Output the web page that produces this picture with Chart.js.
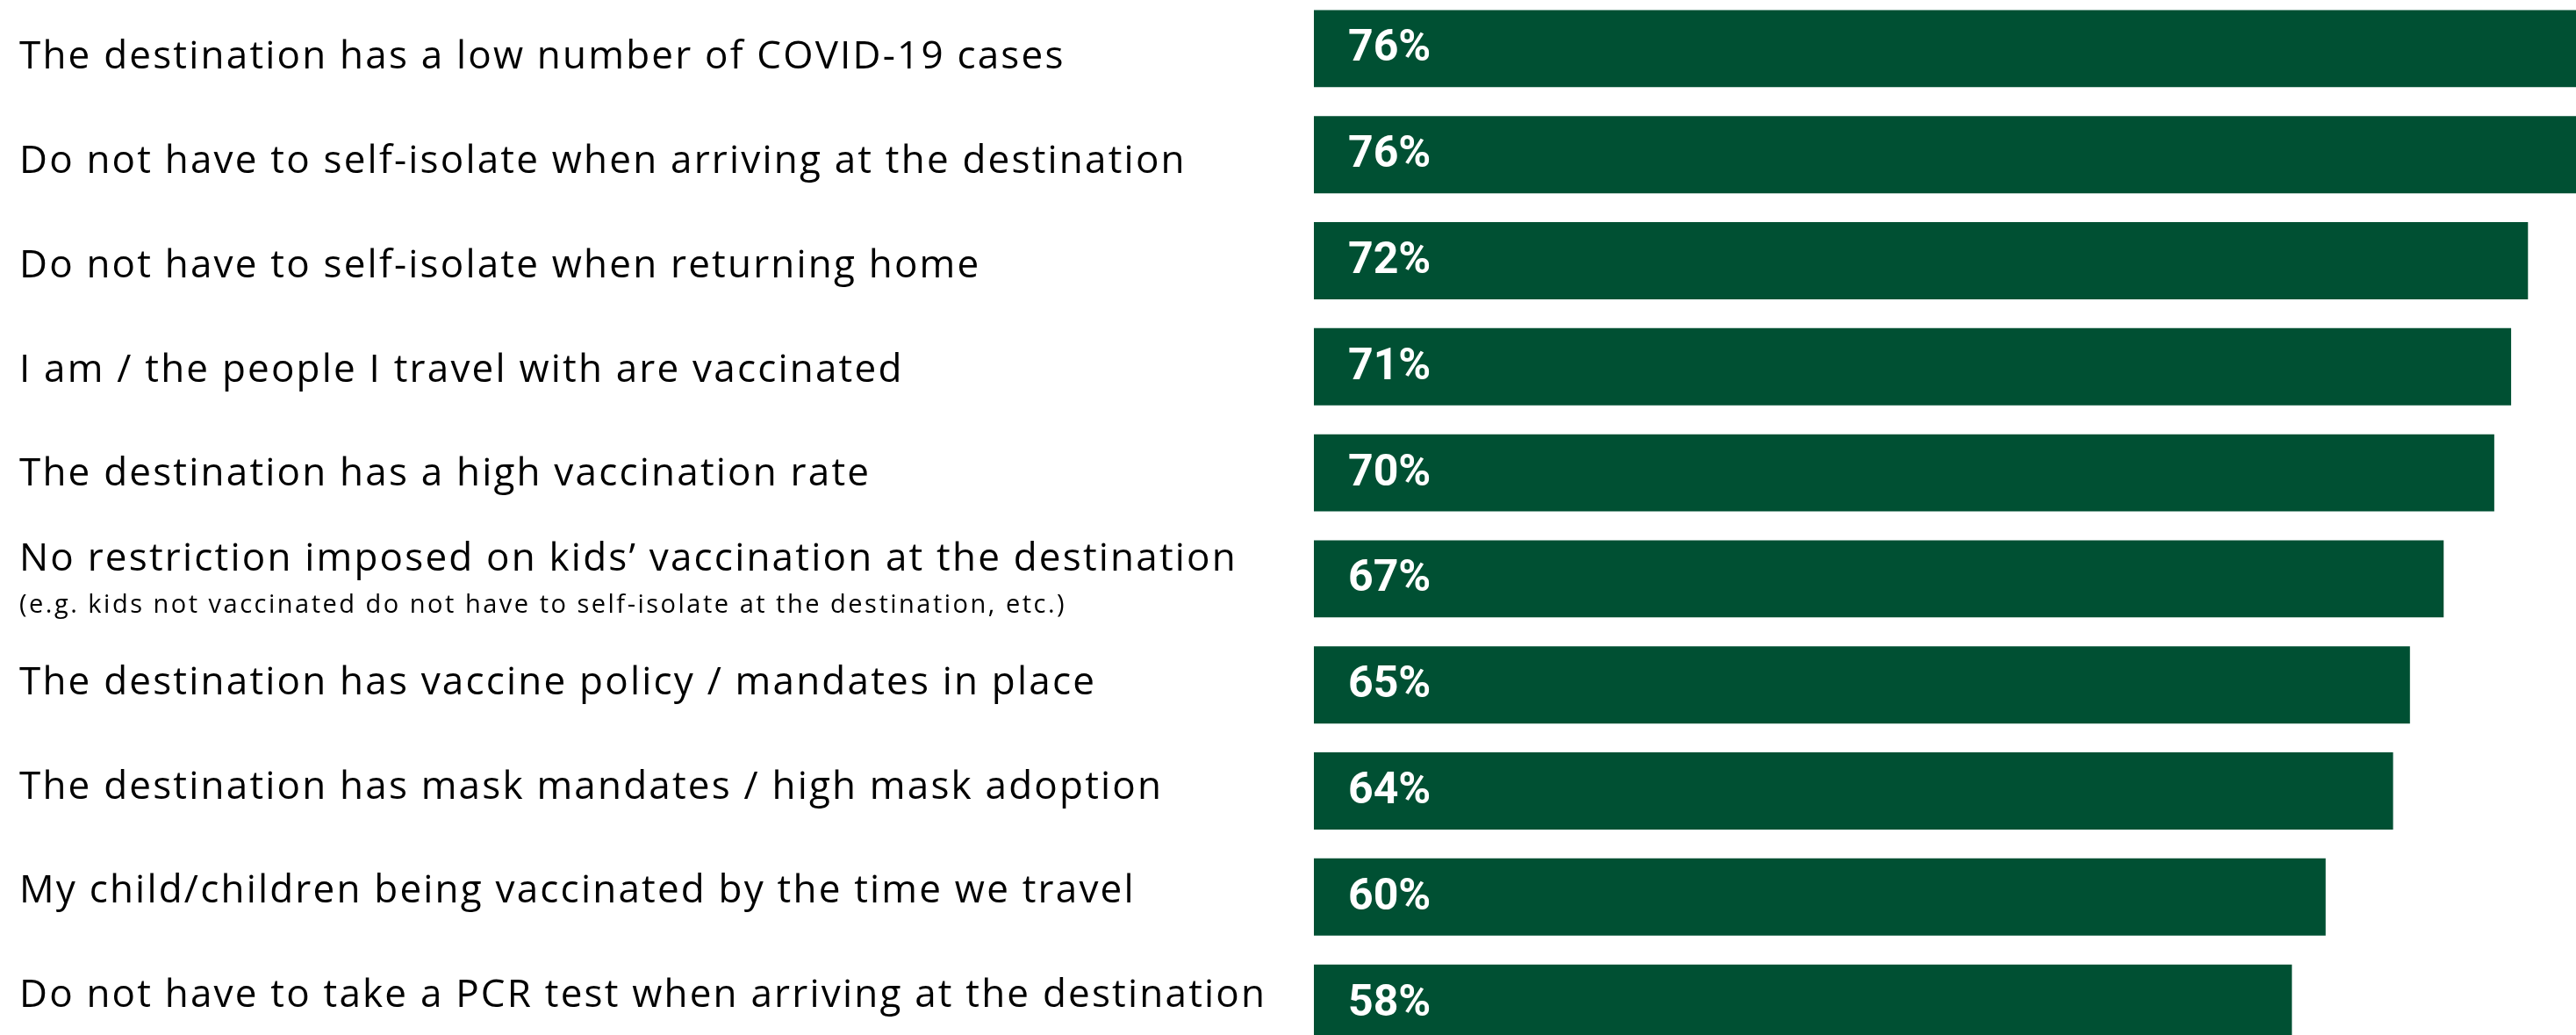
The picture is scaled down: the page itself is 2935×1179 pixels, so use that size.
<!DOCTYPE html>
<html>
<head>
<meta charset="utf-8">
<script src="https://cdn.jsdelivr.net/npm/chart.js@4/dist/chart.umd.min.js"></script>
<style>
    html, body { margin: 0; padding: 0; background: #fff; overflow: hidden; }
    #wrap { position: absolute; left: 0; top: -5px; width: 3034px; height: 1208px; }
</style>
</head>
<body>
<div id="wrap"><canvas id="chart"></canvas></div>
<script>
const LABELS = [
    'The destination has a low number of COVID-19 cases',
    'Do not have to self-isolate when arriving at the destination',
    'Do not have to self-isolate when returning home',
    'I am / the people I travel with are vaccinated',
    'The destination has a high vaccination rate',
    'No restriction imposed on kids\u2019 vaccination at the destination',
    'The destination has vaccine policy / mandates in place',
    'The destination has mask mandates / high mask adoption',
    'My child/children being vaccinated by the time we travel',
    'Do not have to take a PCR test when arriving at the destination'
];
const NOTES = [
    '', '', '', '', '',
    '(e.g. kids not vaccinated do not have to self-isolate at the destination, etc.)',
    '', '', '', ''
];
const VALUES = [76, 76, 72, 71, 70, 67, 65, 64, 60, 58];

const GREEN = '#005033';
const LABEL_FONT = '"Open Sans", sans-serif';

// Category names on the left, value inside the start of each bar
const labelsPlugin = {
    id: 'rowLabels',
    afterDatasetsDraw(chart) {
        let ctx = chart.ctx;
        let meta = chart.getDatasetMeta(0);
        let area = chart.chartArea;

        ctx.save();
        ctx.textAlign = 'left';
        ctx.textBaseline = 'alphabetic';

        meta.data.forEach((bar, idx) => {
            let y = bar.y;

            ctx.letterSpacing = '0px';
            ctx.fillStyle = '#fff';
            ctx.font = 'bold 50px Roboto, sans-serif';
            ctx.fillText(VALUES[idx] + '%', area.left + 39, y + 14);

            // text rows sit on a slightly tighter pitch than the bars
            let base = y + 23 - idx * 2.05;

            ctx.fillStyle = '#000';
            if (NOTES[idx]) {
                ctx.letterSpacing = '2.2px';
                ctx.font = '44px ' + LABEL_FONT;
                ctx.fillText(LABELS[idx], 22, y - 9);
                ctx.letterSpacing = '2.5px';
                ctx.font = '29px ' + LABEL_FONT;
                ctx.fillText(NOTES[idx], 22, y + 39);
            } else {
                ctx.letterSpacing = '2.2px';
                ctx.font = '44px ' + LABEL_FONT;
                ctx.fillText(LABELS[idx], 22, base);
            }
        });

        ctx.restore();
    }
};

new Chart(document.getElementById('chart'), {
    type: 'bar',
    plugins: [labelsPlugin],
    data: {
        labels: LABELS,
        datasets: [{
            data: VALUES,
            backgroundColor: GREEN,
            borderWidth: 0,
            categoryPercentage: 1,
            barPercentage: 0.728
        }]
    },
    options: {
        indexAxis: 'y',
        responsive: true,
        maintainAspectRatio: false,
        animation: false,
        layout: {
            padding: { left: 1497, right: 0, top: 0, bottom: 0 }
        },
        scales: {
            x: { display: false, min: 0, max: 80 },
            y: { display: false }
        },
        plugins: {
            legend: { display: false },
            tooltip: { enabled: false }
        }
    }
});
</script>
</body>
</html>
